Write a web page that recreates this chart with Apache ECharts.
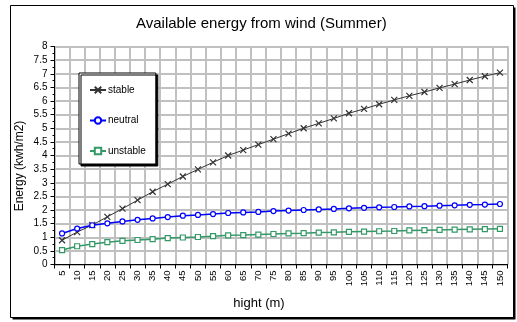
<!DOCTYPE html>
<html>
<head>
<meta charset="utf-8">
<script src="https://cdn.jsdelivr.net/npm/echarts@6/dist/echarts.min.js"></script>
<style>
  html, body { margin: 0; padding: 0; background: #fff; }
  #chart { width: 517px; height: 322px; }
</style>
</head>
<body>
<div id="chart"></div>
<script>
// Hub heights (m)
const heights = ['5','10','15','20','25','30','35','40','45','50','55','60','65','70','75',
                 '80','85','90','95','100','105','110','115','120','125','130','135','140','145','150'];

// Available energy (kwh/m2) per atmospheric stability class
const stable = [0.89, 1.19, 1.45, 1.75, 2.05, 2.36, 2.67, 2.95, 3.23, 3.49,
                3.75, 4.00, 4.20, 4.40, 4.60, 4.80, 5.00, 5.18, 5.36, 5.55,
                5.71, 5.88, 6.04, 6.19, 6.33, 6.48, 6.62, 6.77, 6.91, 7.04];
const neutral = [1.14, 1.32, 1.44, 1.51, 1.58, 1.64, 1.69, 1.74, 1.79, 1.82,
                 1.85, 1.89, 1.91, 1.93, 1.96, 1.98, 2.00, 2.02, 2.04, 2.06,
                 2.08, 2.10, 2.11, 2.13, 2.14, 2.16, 2.17, 2.19, 2.20, 2.22];
const unstable = [0.53, 0.67, 0.75, 0.82, 0.87, 0.90, 0.93, 0.97, 0.99, 1.01,
                  1.04, 1.07, 1.08, 1.10, 1.12, 1.14, 1.15, 1.17, 1.18, 1.20,
                  1.21, 1.22, 1.23, 1.25, 1.26, 1.27, 1.28, 1.29, 1.30, 1.31];

const FONT = 'Liberation Sans, Arial, sans-serif';
const CROSS = 'path://M0,0L10,10M0,10L10,0';

const chart = echarts.init(document.getElementById('chart'), null, { renderer: 'canvas' });

chart.setOption({
  backgroundColor: '#fff',
  animation: false,
  textStyle: { fontFamily: FONT },
  graphic: [
    // frame shadow + frame
    { type: 'rect', z: -10, silent: true,
      shape: { x: 12.5, y: 7.5, width: 503, height: 312 },
      style: { fill: '#000' } },
    { type: 'rect', z: -9, silent: true,
      shape: { x: 10.5, y: 5.5, width: 503, height: 312 },
      style: { fill: '#fff', stroke: '#000', lineWidth: 1 } },
    // axis titles
    { type: 'text', silent: true, x: 20, y: 166, rotation: Math.PI / 2,
      style: { text: 'Energy (kwh/m2)', font: '12px ' + FONT, fill: '#000',
               align: 'center', verticalAlign: 'middle' } },
    { type: 'text', silent: true, x: 259, y: 303,
      style: { text: 'hight (m)', font: '13px ' + FONT, fill: '#000',
               align: 'center', verticalAlign: 'middle' } }
  ],
  title: {
    text: 'Available energy from wind (Summer)',
    left: 136, top: 16, padding: 0,
    textStyle: { fontFamily: FONT, fontSize: 15, fontWeight: 'normal', color: '#000' }
  },
  legend: {
    orient: 'vertical',
    left: 79, top: 73,
    padding: [12, 10, 8, 10],
    itemGap: 20.5,
    itemWidth: 16, itemHeight: 8,
    backgroundColor: '#fff',
    borderColor: '#000', borderWidth: 1,
    shadowColor: '#000', shadowOffsetX: 2, shadowOffsetY: 2, shadowBlur: 0,
    textStyle: { fontFamily: FONT, fontSize: 10, color: '#000', padding: [0, 0, 0, -3] },
    data: ['stable', 'neutral', 'unstable']
  },
  grid: {
    left: 54.5, right: 9.5, top: 46.5, bottom: 57.5,
    show: true, borderColor: '#000', borderWidth: 1, backgroundColor: '#fff'
  },
  xAxis: {
    type: 'category',
    data: heights,
    boundaryGap: true,
    axisLine: { lineStyle: { color: '#000', width: 1 } },
    axisTick: { show: true, length: 4, interval: 0, lineStyle: { color: '#000' } },
    axisLabel: { rotate: 90, interval: 0, margin: 6, fontSize: 9.5, color: '#000', fontFamily: FONT },
    splitLine: { show: true, interval: 0, lineStyle: { color: '#c0c0c0', width: 2 } }
  },
  yAxis: {
    type: 'value',
    min: 0, max: 8, interval: 0.5,
    axisLine: { show: true, lineStyle: { color: '#000', width: 1 } },
    axisTick: { show: true, length: 4, lineStyle: { color: '#000' } },
    minorTick: { show: true, splitNumber: 2, length: 2, lineStyle: { color: '#000' } },
    axisLabel: { margin: 7, fontSize: 10, color: '#000', fontFamily: FONT },
    splitLine: { show: true, lineStyle: { color: '#c0c0c0', width: 2 } }
  },
  series: [
    {
      name: 'stable', type: 'line', data: stable,
      symbol: CROSS, symbolSize: 6,
      lineStyle: { color: '#333333', width: 1 },
      itemStyle: { color: '#333333', borderColor: '#333333', borderWidth: 1.2 }
    },
    {
      name: 'neutral', type: 'line', data: neutral,
      symbol: 'circle', symbolSize: 5,
      lineStyle: { color: '#0000ff', width: 1.5 },
      itemStyle: { color: '#fff', borderColor: '#0000ff', borderWidth: 1.2 }
    },
    {
      name: 'unstable', type: 'line', data: unstable,
      symbol: 'rect', symbolSize: 5,
      lineStyle: { color: '#339966', width: 1.5 },
      itemStyle: { color: '#fff', borderColor: '#339966', borderWidth: 1.2 }
    }
  ]
});
</script>
</body>
</html>
